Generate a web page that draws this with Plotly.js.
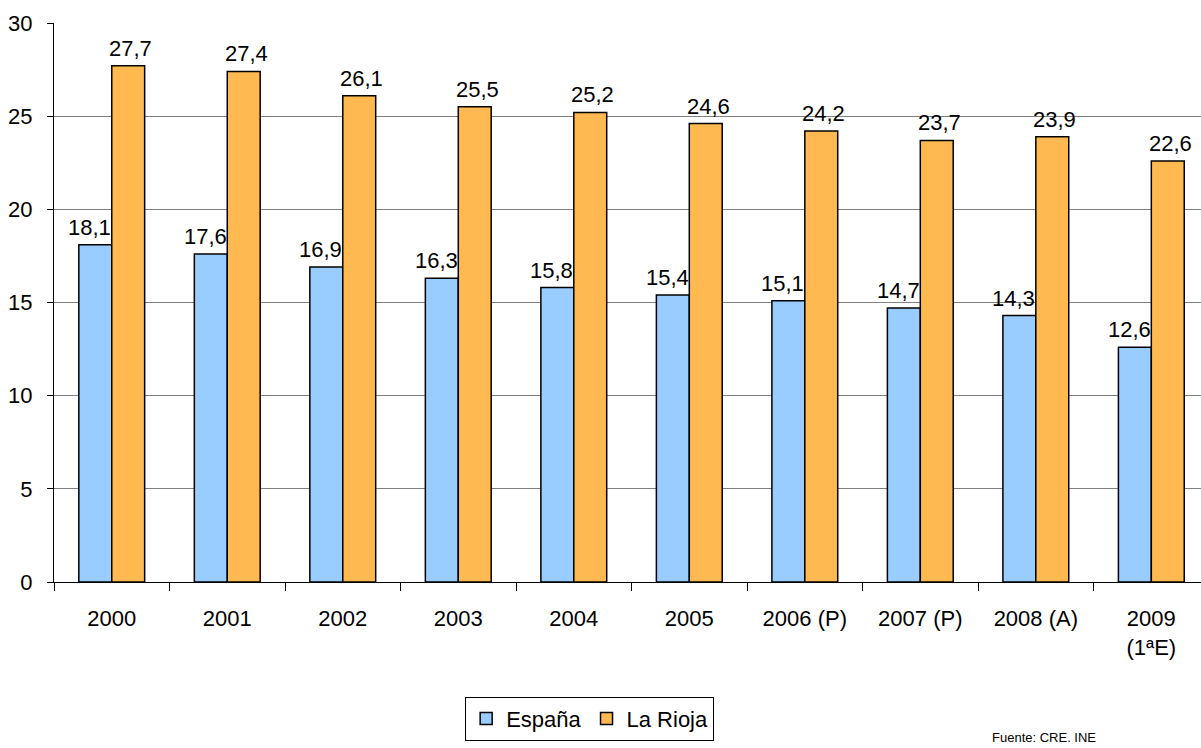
<!DOCTYPE html>
<html><head><meta charset="utf-8">
<script src="https://cdn.plot.ly/plotly-3.0.1.min.js"></script>
<style>html,body{margin:0;padding:0;background:#fff;}#chart{width:1201px;height:748px;}</style>
</head><body><div id="chart"></div>
<script>
const categories = ["2000","2001","2002","2003","2004","2005","2006 (P)","2007 (P)","2008 (A)","2009<br>(1ªE)"];
const espana = [18.1,17.6,16.9,16.3,15.8,15.4,15.1,14.7,14.3,12.6];
const rioja = [27.7,27.4,26.1,25.5,25.2,24.6,24.2,23.7,23.9,22.6];
const yTicks = [0,5,10,15,20,25,30];
const font = "Liberation Sans, Arial, sans-serif";
const fmt = v => v.toFixed(1).replace(".", ",");
const common = {type: "bar", hoverinfo: "skip"};
const traces = [
  Object.assign({}, common, {name: "España", x: categories, y: espana,
    marker: {color: "#99CCFF", line: {color: "#000", width: 1.5}}}),
  Object.assign({}, common, {name: "La Rioja", x: categories, y: rioja,
    marker: {color: "#FFB950", line: {color: "#000", width: 1.5}}})
];
const labelAnn = (vals, shift) => vals.map((v, i) => ({
  x: categories.indexOf(categories[i]), y: v, xref: "x", yref: "y", text: fmt(v), showarrow: false,
  xanchor: "center", yanchor: "bottom", xshift: shift, yshift: 4, borderpad: 0,
  font: {family: font, size: 22, color: "#000"}
}));
const layout = {
  width: 1201, height: 748,
  margin: {l: 54, r: 0, t: 23, b: 166},
  paper_bgcolor: "#fff", plot_bgcolor: "#fff",
  separators: ",.",
  barmode: "group", bargap: 0.43, bargroupgap: 0,
  font: {family: font, size: 20, color: "#000"},
  showlegend: true,
  legend: {orientation: "h", x: 0.467, xanchor: "center", y: -0.205, yanchor: "top",
    bordercolor: "#000", borderwidth: 1, font: {family: font, size: 22, color: "#000"},
    itemwidth: 30, traceorder: "normal"},
  xaxis: {type: "category", range: [-0.5, 9.43], tickson: "boundaries", ticks: "outside",
    ticklen: 8, tickcolor: "#000", showline: true, linecolor: "#000", linewidth: 1,
    ticklabelstandoff: 17,
    showgrid: false, tickfont: {family: font, size: 22, color: "#000"}, fixedrange: true},
  yaxis: {range: [0, 30], tickvals: yTicks, ticks: "outside", ticklen: 6, tickcolor: "#000",
    showline: true, linecolor: "#000", linewidth: 1, gridcolor: "#808080", gridwidth: 1,
    ticklabelstandoff: 10,
    zeroline: false, tickfont: {family: font, size: 22, color: "#000"}, fixedrange: true},
  annotations: labelAnn(espana, -22).concat(labelAnn(rioja, 19)).concat([
    {text: "Fuente: CRE. INE", xref: "paper", yref: "paper", x: (990-54)/1147, y: (582-737)/559,
    xanchor: "left", yanchor: "middle", showarrow: false, font: {family: font, size: 13, color: "#000"}}])
};
Plotly.newPlot("chart", traces, layout, {displayModeBar: false, staticPlot: true});
</script></body></html>
